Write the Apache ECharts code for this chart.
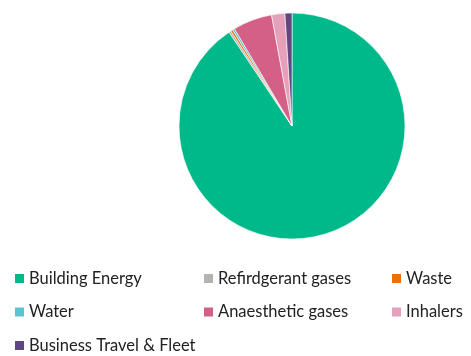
<!DOCTYPE html>
<html><head><meta charset="utf-8">
<script src="https://cdn.jsdelivr.net/npm/echarts@6/dist/echarts.min.js"></script>
<style>html,body{margin:0;padding:0;background:#fff}#c{width:471px;height:356px}</style>
</head><body><div id="c"></div>
<script>
const categories = ["Building Energy","Refirdgerant gases","Waste","Water","Anaesthetic gases","Inhalers","Business Travel & Fleet"];
const values = [90.6, 0.3, 0.3, 0.3, 5.6, 1.9, 1.0];
const colors = ["#00B98A","#B5B2AF","#E8700F","#5BC4D3","#D45F87","#E7A0BA","#5E4882"];

const chart = echarts.init(document.getElementById('c'), null, {renderer:'canvas'});
const legendCommon = {
  orient:'vertical', icon:'rect', itemWidth:9, itemHeight:9, itemGap:16.5, height:120, padding:0,
  itemStyle:{borderWidth:0},
  textStyle:{fontFamily:'Lato', fontSize:16.5, color:'#222', lineHeight:14},
  selectedMode:false
};
chart.setOption({
  animation:false,
  color: colors,
  legend:[
    Object.assign({}, legendCommon, {left:15, top:270, data:[categories[0],categories[3],categories[6]]}),
    Object.assign({}, legendCommon, {left:204, top:270, data:[categories[1],categories[4]]}),
    Object.assign({}, legendCommon, {left:392, top:270, data:[categories[2],categories[5]]})
  ],
  series:[{
    type:'pie', center:[292,126], radius:113, startAngle:90, clockwise:true,
    label:{show:false}, labelLine:{show:false},
    itemStyle:{borderColor:'#fff', borderWidth:0.6},
    emphasis:{disabled:true},
    data: categories.map((n,i)=>({name:n, value:values[i]}))
  }]
});
</script></body></html>
